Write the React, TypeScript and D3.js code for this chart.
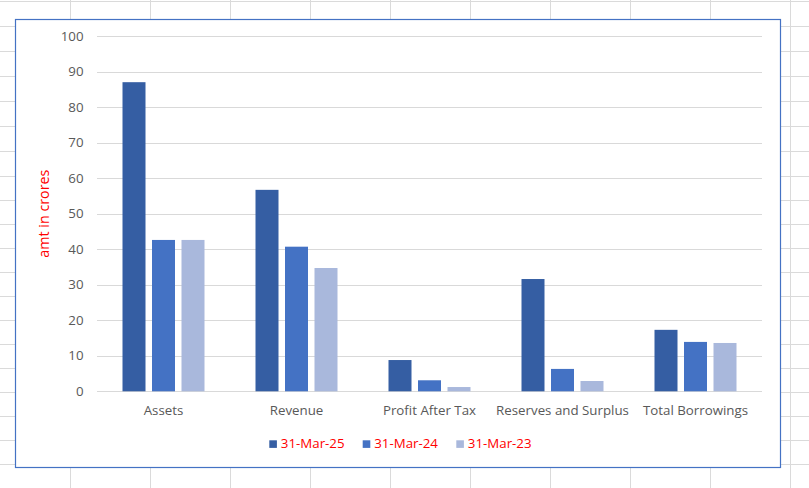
import React from "react";
import * as d3 from "d3";

const categories = ["Assets", "Revenue", "Profit After Tax", "Reserves and Surplus", "Total Borrowings"];
const seriesNames = ["31-Mar-25", "31-Mar-24", "31-Mar-23"];
const mar25 = [87, 56.7, 8.8, 31.6, 17.3];
const mar24 = [42.6, 40.7, 3.1, 6.3, 13.9];
const mar23 = [42.6, 34.7, 1.2, 2.9, 13.6];
const yTicks = [0, 10, 20, 30, 40, 50, 60, 70, 80, 90, 100];
const colors = ["#355EA3", "#4472C4", "#A9B8DC"];

// spreadsheet background grid (decoration)
const sheetRows = [1.5, 26.5, 51.5, 76.5, 101.5, 126.5, 151.5, 176.5, 200.5, 224.5, 248.5, 272.5, 296.5, 320.5, 344.5, 368.5, 392.5, 416.5, 440.5, 464.5];
const sheetCols = [70.5, 150.5, 230.5, 310.5, 390.5, 470.5, 550.5, 630.5, 710.5, 790.5];

const FONT = "'Open Sans', 'Segoe UI', sans-serif";

export default function App() {
  const W = 809, H = 488;
  const plotL = 97, plotR = 762, plotT = 36, plotB = 391.3;
  const series = [mar25, mar24, mar23];

  const y = d3.scaleLinear().domain([0, 100]).range([plotB, plotT]);
  const x0 = d3.scaleBand<string>().domain(categories).range([plotL, plotR]).padding(0);
  const clusterW = 82;
  const x1 = d3
    .scaleBand<string>()
    .domain(seriesNames)
    .range([0, clusterW])
    .paddingInner(6.5 / 29.5)
    .paddingOuter(0);
  const off = (x0.bandwidth() - clusterW) / 2;

  const legendX = [269.3, 362.7, 456.3];

  return (
    <svg
      width={W}
      height={H}
      style={{ position: "absolute", left: 0, top: 0, background: "#fff" }}
      fontFamily={FONT}
    >
      {/* sheet grid */}
      {sheetRows.map((r, i) => (
        <line key={"r" + i} x1={0} x2={W} y1={r} y2={r} stroke="#DADADA" strokeWidth={1} />
      ))}
      {sheetCols.map((c, i) => (
        <line key={"c" + i} x1={c} x2={c} y1={0} y2={H} stroke="#DADADA" strokeWidth={1} />
      ))}
      {/* chart area */}
      <rect x={15.5} y={19.5} width={765} height={448} fill="#fff" stroke="#4472C4" strokeWidth={1.2} />

      {/* gridlines */}
      {yTicks.map((t) => (
        <line
          key={"g" + t}
          x1={plotL}
          x2={plotR}
          y1={Math.round(y(t)) + 0.5}
          y2={Math.round(y(t)) + 0.5}
          stroke="#D9D9D9"
          strokeWidth={1}
        />
      ))}
      {yTicks.map((t) => (
        <text
          key={"t" + t}
          x={83.5}
          y={y(t)}
          dy="0.35em"
          textAnchor="end"
          fontSize={13.3}
          fill="#595959"
        >
          {t}
        </text>
      ))}

      {/* bars */}
      {series.map((vals, si) =>
        vals.map((v, ci) => (
          <rect
            key={"b" + si + "-" + ci}
            x={(x0(categories[ci]) as number) + off + (x1(seriesNames[si]) as number)}
            y={y(v)}
            width={x1.bandwidth()}
            height={y(0) - y(v)}
            fill={colors[si]}
          />
        ))
      )}

      {/* category labels */}
      {categories.map((c) => (
        <text
          key={"c" + c}
          x={(x0(c) as number) + x0.bandwidth() / 2}
          y={415}
          textAnchor="middle"
          fontSize={13.3}
          fill="#595959"
        >
          {c}
        </text>
      ))}

      {/* y title */}
      <text
        transform={`translate(49, ${(plotT + plotB) / 2}) rotate(-90)`}
        textAnchor="middle"
        fontSize={14.3}
        fill="#FF0000"
      >
        amt in crores
      </text>

      {/* legend */}
      {seriesNames.map((s, i) => (
        <g key={"l" + s}>
          <rect x={legendX[i]} y={440.3} width={7.6} height={7.6} fill={colors[i]} />
          <text x={legendX[i] + 11.5} y={448} fontSize={13.3} fill="#FF0000">
            {s}
          </text>
        </g>
      ))}
    </svg>
  );
}
